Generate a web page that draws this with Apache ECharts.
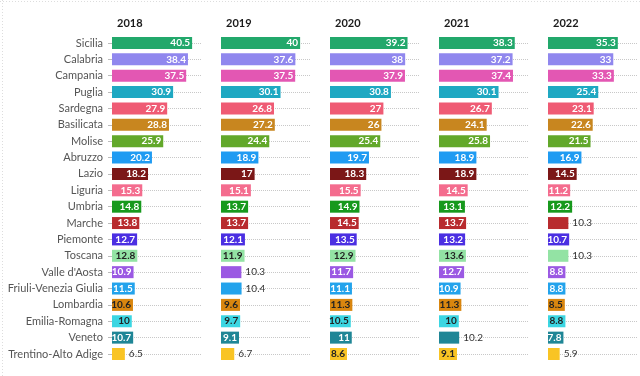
<!DOCTYPE html>
<html>
<head>
<meta charset="utf-8">
<script src="https://cdn.jsdelivr.net/npm/echarts@6/dist/echarts.min.js"></script>
<style>
    html, body {margin: 0; padding: 0; background: #fff;}
    #chart {width: 640px; height: 376px;}
</style>
</head>
<body>
<div id="chart"></div>
<script>
var regions = ['Sicilia', 'Calabria', 'Campania', 'Puglia', 'Sardegna', 'Basilicata', 'Molise', 'Abruzzo', 'Lazio', 'Liguria',
    'Umbria', 'Marche', 'Piemonte', 'Toscana', "Valle d'Aosta", 'Friuli-Venezia Giulia', 'Lombardia', 'Emilia-Romagna', 'Veneto', 'Trentino-Alto Adige'];
var years = ['2018', '2019', '2020', '2021', '2022'];

var v2018 = [40.5, 38.4, 37.5, 30.9, 27.9, 28.8, 25.9, 20.2, 18.2, 15.3, 14.8, 13.8, 12.7, 12.8, 10.9, 11.5, 10.6, 10, 10.7, 6.5];
var v2019 = [40, 37.6, 37.5, 30.1, 26.8, 27.2, 24.4, 18.9, 17, 15.1, 13.7, 13.7, 12.1, 11.9, 10.3, 10.4, 9.6, 9.7, 9.1, 6.7];
var v2020 = [39.2, 38, 37.9, 30.8, 27, 26, 25.4, 19.7, 18.3, 15.5, 14.9, 14.5, 13.5, 12.9, 11.7, 11.1, 11.3, 10.5, 11, 8.6];
var v2021 = [38.3, 37.2, 37.4, 30.1, 26.7, 24.1, 25.8, 18.9, 18.9, 14.5, 13.1, 13.7, 13.2, 13.6, 12.7, 10.9, 11.3, 10, 10.2, 9.1];
var v2022 = [35.3, 33, 33.3, 25.4, 23.1, 22.6, 21.5, 16.9, 14.5, 11.2, 12.2, 10.3, 10.7, 10.3, 8.8, 8.8, 8.5, 8.8, 7.8, 5.9];
var values = [v2018, v2019, v2020, v2021, v2022];

// one colour per region, same order as regions
var colors = ['#22a86b', '#9087ee', '#e357b3', '#1fa8c2', '#ef5b74', '#c8861f', '#62a82a', '#1f9bf2', '#7b1717', '#f46c8e',
    '#17991d', '#b82b2e', '#4b2fe2', '#93e3a4', '#9b59e3', '#23a3ec', '#d9860f', '#3bd6e2', '#1f8696', '#f9c424'];
// light bars get dark text inside
var darkText = ['Toscana', 'Lombardia', 'Emilia-Romagna', 'Trentino-Alto Adige'];

var font = 'Lato';
var gridLeft = [112, 221, 330, 439, 548];
var gridWidth = 90;
var xMax = 45.5;

// does the value label fit inside its bar?
function fits(v) {
    var s = String(v);
    var digits = s.replace('.', '').length;
    var dots = s.length - digits;
    var need = digits * 5.8 + dots * 2.5 + 0.8;
    return v * gridWidth / xMax >= need;
}

var grid = [], xAxis = [], yAxis = [], series = [], title = [];
years.forEach(function (y, i) {
    grid.push({left: gridLeft[i], width: gridWidth, top: 43, bottom: 22, outerBoundsMode: 'none'});
    title.push({
        text: y, left: gridLeft[i], top: 13,
        textStyle: {fontFamily: font, fontSize: 11, fontWeight: 'bold', color: '#1a1a1a'}
    });
    xAxis.push({
        type: 'value', gridIndex: i, min: 0, max: xMax,
        show: false, splitLine: {show: false}
    });
    yAxis.push({
        type: 'category', gridIndex: i, data: regions, inverse: true, boundaryGap: false,
        axisLine: {show: false},
        axisTick: {show: i === 0, length: 4, lineStyle: {color: '#bbb'}},
        axisLabel: {show: i === 0, margin: 9, fontFamily: font, fontSize: 11, color: '#555'},
        splitLine: {show: true, lineStyle: {color: '#c8c8c8', type: 'dotted', width: 1}}
    });
    series.push({
        type: 'bar', xAxisIndex: i, yAxisIndex: i, barWidth: 12,
        data: values[i].map(function (v, j) {
            var inside = fits(v);
            return {
                value: v,
                itemStyle: {color: colors[j]},
                label: inside ? {
                    show: true, position: 'insideRight', distance: 2,
                    fontFamily: font, fontSize: 10, fontWeight: 'bold',
                    color: darkText.indexOf(regions[j]) >= 0 ? '#222' : '#fff'
                } : {
                    show: true, position: 'right', distance: 4,
                    fontFamily: font, fontSize: 10, fontWeight: 'normal', color: '#333'
                }
            };
        })
    });
});

var option = {
    animation: false,
    title: title,
    grid: grid,
    xAxis: xAxis,
    yAxis: yAxis,
    series: series,
    graphic: [
        {type: 'line', shape: {x1: 0, y1: 1.5, x2: 640, y2: 1.5}, style: {stroke: '#ddd', lineDash: [1, 2]}},
        {type: 'line', shape: {x1: 2.5, y1: 0, x2: 2.5, y2: 376}, style: {stroke: '#ddd', lineDash: [1, 2]}}
    ]
};

echarts.init(document.getElementById('chart')).setOption(option);
</script>
</body>
</html>
